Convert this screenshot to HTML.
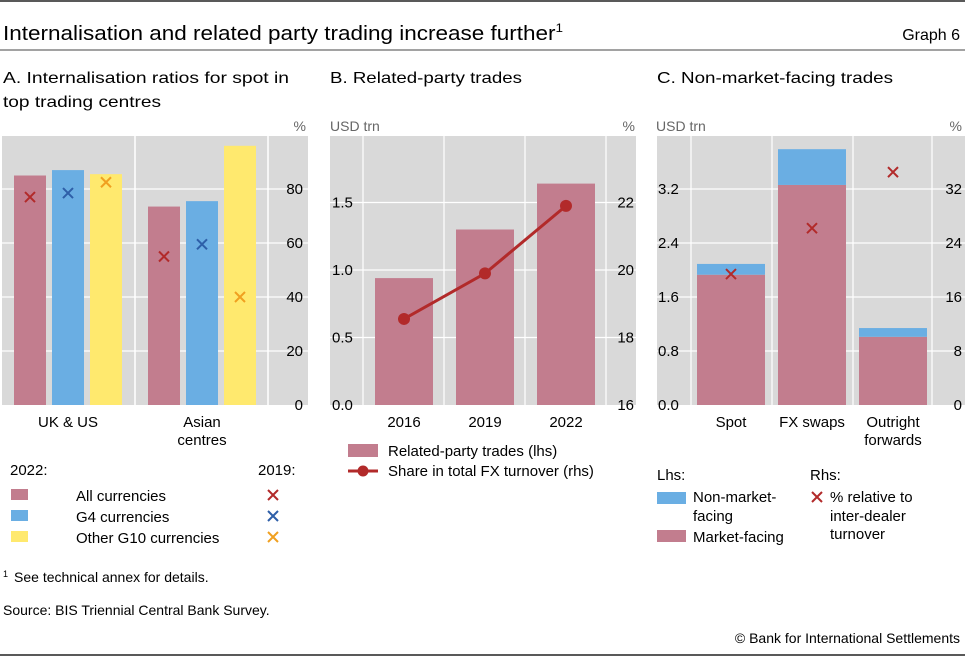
<!DOCTYPE html>
<html><head><meta charset="utf-8"><style>
body{margin:0;background:#fff}
svg{display:block;font-family:"Liberation Sans",sans-serif}
</style></head><body>
<svg id="c" width="965" height="657" viewBox="0 0 965 657">
<line x1="0" y1="1" x2="965" y2="1" stroke="#222" stroke-width="1.5"/>
<text x="3" y="40" font-size="20" textLength="560" lengthAdjust="spacingAndGlyphs">Internalisation and related party trading increase further<tspan font-size="12" dy="-8">1</tspan></text>
<text x="960" y="40" font-size="16" text-anchor="end">Graph 6</text>
<line x1="0" y1="50" x2="965" y2="50" stroke="#444" stroke-width="1"/>
<g font-size="16">
<text x="3" y="83" textLength="286" lengthAdjust="spacingAndGlyphs">A. Internalisation ratios for spot in</text>
<text x="3" y="107" textLength="158" lengthAdjust="spacingAndGlyphs">top trading centres</text>
<text x="330" y="83" textLength="192" lengthAdjust="spacingAndGlyphs">B. Related-party trades</text>
<text x="657" y="83" textLength="236" lengthAdjust="spacingAndGlyphs">C. Non-market-facing trades</text>
</g>
<g id="pa"></g><g id="pb"></g><g id="pc"></g>
<g font-size="15">
<text x="10" y="475">2022:</text>
<text x="258" y="475">2019:</text>
<rect x="11" y="489" width="17" height="11" fill="#c27d8e"/>
<text x="76" y="501">All currencies</text>
<rect x="11" y="510" width="17" height="11" fill="#6aaee3"/>
<text x="76" y="522">G4 currencies</text>
<rect x="11" y="531" width="17" height="11" fill="#ffe96e"/>
<text x="76" y="543">Other G10 currencies</text>
<path d="M268,490L278,500M278,490L268,500" stroke="#b22a2a" stroke-width="2"/>
<path d="M268,511L278,521M278,511L268,521" stroke="#2e5fa8" stroke-width="2"/>
<path d="M268,532L278,542M278,532L268,542" stroke="#f0a020" stroke-width="2"/>
<rect x="348" y="444" width="30" height="13" fill="#c27d8e"/>
<text x="388" y="456">Related-party trades (lhs)</text>
<line x1="348" y1="471" x2="378" y2="471" stroke="#b22a2a" stroke-width="3"/>
<circle cx="363" cy="471" r="5.5" fill="#b22a2a"/>
<text x="388" y="476">Share in total FX turnover (rhs)</text>
<text x="657" y="480">Lhs:</text>
<text x="810" y="480">Rhs:</text>
<rect x="657" y="492" width="29" height="12" fill="#6aaee3"/>
<text x="693" y="502">Non-market-</text>
<text x="693" y="521">facing</text>
<rect x="657" y="530" width="29" height="12" fill="#c27d8e"/>
<text x="693" y="542">Market-facing</text>
<path d="M812,492L822,502M822,492L812,502" stroke="#b22a2a" stroke-width="2"/>
<text x="830" y="502">% relative to</text>
<text x="830" y="521">inter-dealer</text>
<text x="830" y="539">turnover</text>
</g>
<g font-size="14">
<text x="3" y="582"><tspan font-size="9" dy="-5">1</tspan><tspan dx="6" dy="5">See technical annex for details.</tspan></text>
<text x="3" y="615">Source: BIS Triennial Central Bank Survey.</text>
<text x="960" y="643" text-anchor="end">© Bank for International Settlements</text>
</g>
<line x1="0" y1="655" x2="965" y2="655" stroke="#222" stroke-width="1.5"/>
</svg>
<script>
// Panel A data
const aCategories = ["UK & US", "Asian centres"];
const aSeries = ["All currencies", "G4 currencies", "Other G10 currencies"];
const a2022 = [[85, 87, 85.5], [73.5, 75.5, 96]];
const a2019 = [[77, 78.5, 82.5], [55, 59.5, 40]];
const aTicks = [0, 20, 40, 60, 80];
// Panel B data
const bYears = ["2016", "2019", "2022"];
const bTrades = [0.94, 1.30, 1.64];
const bShare = [18.55, 19.9, 21.9];
const bLeftTicks = ["0.0", "0.5", "1.0", "1.5"];
const bRightTicks = ["16", "18", "20", "22"];
// Panel C data
const cCategories = ["Spot", "FX swaps", "Outright forwards"];
const cMarket = [1.93, 3.26, 1.01];
const cNonMarket = [0.16, 0.53, 0.13];
const cRelative = [19.4, 26.2, 34.5];
const cLeftTicks = ["0.0", "0.8", "1.6", "2.4", "3.2"];
const cRightTicks = ["0", "8", "16", "24", "32"];

const NS = "http://www.w3.org/2000/svg";
function mk(parent, tag, attrs, text) {
  const e = document.createElementNS(NS, tag);
  for (const k in attrs) e.setAttribute(k, attrs[k]);
  if (text !== undefined) e.textContent = text;
  parent.appendChild(e);
  return e;
}
const PINK = "#c27d8e", BLUE = "#6aaee3", YEL = "#ffe96e", BG = "#d9d9d9";
const TOP = 136, BOT = 405;
function cross(g, cx, cy, col, name) {
  const p = mk(g, "path", {d: `M${cx-5},${cy-5}L${cx+5},${cy+5}M${cx+5},${cy-5}L${cx-5},${cy+5}`, stroke: col, "stroke-width": 2, fill: "none"});
  
  
}

// Panel A
(function () {
  const g = document.getElementById("pa");
  const x0 = 2, x1 = 308;
  const y = v => BOT - v / 80 * 216;
  const bg = mk(g, "rect", {x: x0, y: TOP, width: x1 - x0, height: BOT - TOP, fill: BG});
  
  
  aTicks.forEach(t => {
    if (t > 0) {
      const l = mk(g, "line", {x1: x0, x2: x1, y1: y(t), y2: y(t), stroke: "#fff", "stroke-width": 1.2});
      
      
    }
    const tx = mk(g, "text", {x: 303, y: y(t) + 5, "font-size": 15, "text-anchor": "end"}, String(t));
    
    
  });
  [135, 268].forEach(vx => {
    const l = mk(g, "line", {x1: vx, x2: vx, y1: TOP, y2: BOT, stroke: "#fff", "stroke-width": 1.5});
    
    
  });
  const u = mk(g, "text", {x: 306, y: 131, "font-size": 14, fill: "#666", "text-anchor": "end"}, "%");
  
  
  const cols = [PINK, BLUE, YEL], xcols = ["#b22a2a", "#2e5fa8", "#f0a020"];
  const groupStart = [14, 148], bw = 32, step = 38;
  aCategories.forEach((c, i) => {
    a2022[i].forEach((v, j) => {
      const bx = groupStart[i] + j * step;
      const r = mk(g, "rect", {x: bx, y: y(v), width: bw, height: BOT - y(v), fill: cols[j]});
      
      
      cross(g, bx + bw / 2, y(a2019[i][j]), xcols[j], 'cross-2019-' + (i ? 'asia' : 'ukus') + '-' + j);
    });
    const cx = groupStart[i] + 54;
    const words = c === "Asian centres" ? ["Asian", "centres"] : [c];
    words.forEach((w, k) => {
      const t = mk(g, "text", {x: cx, y: 427 + k * 18, "font-size": 15, "text-anchor": "middle"}, w);
      
      
    });
  });
})();

// Panel B
(function () {
  const g = document.getElementById("pb");
  const x0 = 330, x1 = 636;
  const y = v => BOT - v / 0.5 * 67.5;
  const yr = v => BOT - (v - 16) / 2 * 67.5;
  const bg = mk(g, "rect", {x: x0, y: TOP, width: x1 - x0, height: BOT - TOP, fill: BG});
  
  
  bLeftTicks.forEach((t, i) => {
    const yy = y(parseFloat(t));
    if (i > 0) {
      const l = mk(g, "line", {x1: x0, x2: x1, y1: yy, y2: yy, stroke: "#fff", "stroke-width": 1.2});
      
      
    }
    const tx = mk(g, "text", {x: 332, y: yy + 5, "font-size": 15}, t);
    
    
  });
  bRightTicks.forEach(t => {
    const tx = mk(g, "text", {x: 634, y: yr(parseFloat(t)) + 5, "font-size": 15, "text-anchor": "end"}, t);
    
    
  });
  [363, 444, 525, 606].forEach(vx => {
    const l = mk(g, "line", {x1: vx, x2: vx, y1: TOP, y2: BOT, stroke: "#fff", "stroke-width": 1.2});
    
    
  });
  const u1 = mk(g, "text", {x: 330, y: 131, "font-size": 14, fill: "#666"}, "USD trn");
  
  
  const u2 = mk(g, "text", {x: 635, y: 131, "font-size": 14, fill: "#666", "text-anchor": "end"}, "%");
  
  
  const xc = i => 404 + i * 81;
  bYears.forEach((yrs, i) => {
    const r = mk(g, "rect", {x: xc(i) - 29, y: y(bTrades[i]), width: 58, height: BOT - y(bTrades[i]), fill: PINK});
    
    
    const t = mk(g, "text", {x: xc(i), y: 427, "font-size": 15, "text-anchor": "middle"}, yrs);
    
    
  });
  const pts = bShare.map((v, i) => xc(i) + "," + yr(v)).join(" ");
  const pl = mk(g, "polyline", {points: pts, fill: "none", stroke: "#b22a2a", "stroke-width": 3});
  
  
  bShare.forEach((v, i) => {
    const c = mk(g, "circle", {cx: xc(i), cy: yr(v), r: 6, fill: "#b22a2a"});
    
    
  });
})();

// Panel C
(function () {
  const g = document.getElementById("pc");
  const x0 = 657, x1 = 965;
  const y = v => BOT - v / 0.8 * 54;
  const yr = v => BOT - v / 8 * 54;
  const bg = mk(g, "rect", {x: x0, y: TOP, width: x1 - x0, height: BOT - TOP, fill: BG});
  
  
  cLeftTicks.forEach((t, i) => {
    const yy = y(parseFloat(t));
    if (i > 0) {
      const l = mk(g, "line", {x1: x0, x2: x1, y1: yy, y2: yy, stroke: "#fff", "stroke-width": 1.2});
      
      
    }
    const tx = mk(g, "text", {x: 658, y: yy + 5, "font-size": 15}, t);
    
    
  });
  cRightTicks.forEach(t => {
    const tx = mk(g, "text", {x: 962, y: yr(parseFloat(t)) + 5, "font-size": 15, "text-anchor": "end"}, t);
    
    
  });
  [691, 772, 853, 932].forEach(vx => {
    const l = mk(g, "line", {x1: vx, x2: vx, y1: TOP, y2: BOT, stroke: "#fff", "stroke-width": 1.2});
    
    
  });
  const u1 = mk(g, "text", {x: 656, y: 131, "font-size": 14, fill: "#666"}, "USD trn");
  
  
  const u2 = mk(g, "text", {x: 962, y: 131, "font-size": 14, fill: "#666", "text-anchor": "end"}, "%");
  
  
  const xc = i => 731 + i * 81;
  cCategories.forEach((c, i) => {
    const m = cMarket[i], n = cNonMarket[i];
    const r1 = mk(g, "rect", {x: xc(i) - 34, y: y(m), width: 68, height: BOT - y(m), fill: PINK});
    
    
    const r2 = mk(g, "rect", {x: xc(i) - 34, y: y(m + n), width: 68, height: y(m) - y(m + n), fill: BLUE});
    
    
    cross(g, xc(i), yr(cRelative[i]), "#b22a2a", 'cross-relative-' + i);
    const words = c === "Outright forwards" ? ["Outright", "forwards"] : [c];
    words.forEach((w, k) => {
      const t = mk(g, "text", {x: xc(i), y: 427 + k * 18, "font-size": 15, "text-anchor": "middle"}, w);
      
      
    });
  });
})();
</script>
</body></html>
